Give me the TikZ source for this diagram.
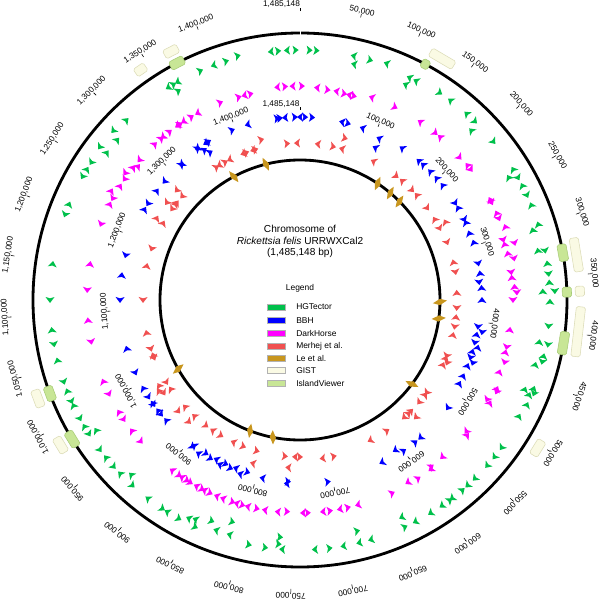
\documentclass[tikz,border=0pt]{standalone}
\usepackage{fontspec}
\setmainfont{Liberation Sans}
\definecolor{hgt}{HTML}{00C04B}
\definecolor{bbh}{HTML}{0000FF}
\definecolor{dh}{HTML}{FF00FF}
\definecolor{mer}{HTML}{F05050}
\definecolor{lecol}{HTML}{C8961E}
\definecolor{gistf}{HTML}{FAFAE4}
\definecolor{gistd}{HTML}{DCDCB8}
\definecolor{ivf}{HTML}{C8E696}
\definecolor{ivd}{HTML}{A8CC78}
\newcommand\featarrow[4]{%
  \pgfmathsetmacro\ftA{90-(#2)}%
  \pgfmathsetmacro\ftD{(#4)*3/(#3)*57.2958}%
  \pgfmathsetmacro\ftRo{#3+4.5}%
  \pgfmathsetmacro\ftRi{#3-4.5}%
  \fill[#1] ({\ftA-\ftD}:#3) -- ({\ftA+\ftD}:\ftRo) -- ({\ftA+0.55*\ftD}:#3) -- ({\ftA+\ftD}:\ftRi) -- cycle;}
\tikzset{
  ring/.style={line width=2pt, black},
  lab/.style={font=\fontsize{5.9}{7}\selectfont, inner sep=0pt},
  titletext/.style={font=\fontsize{7.2}{8.5}\selectfont, inner sep=0pt},
  legtext/.style={font=\fontsize{6}{7}\selectfont, inner sep=0pt},
  legbox/.style={draw=gray!60, line width=0.3pt, minimum width=0.45cm, minimum height=0.16cm, inner sep=0pt},
  gistbox/.style={draw=gistd, fill=gistf, line width=0.4pt, rounded corners=1.2pt, minimum height=0.23cm, inner sep=0pt},
  ivbox/.style={draw=ivd, fill=ivf, line width=0.4pt, rounded corners=1.2pt, minimum height=0.23cm, inner sep=0pt},
}
\begin{document}
\begin{tikzpicture}[x=0.025cm,y=0.025cm]
\useasboundingbox (-300,-300) rectangle (300,300);
% GIST boxes
\foreach \a/\w [count=\n] in {30.5/27, 325.3/12, 332.6/15, 80.7/34, 88.2/10, 96.5/50, 121.9/17, 249.4/18, 238.8/17}{
  \pgfmathsetmacro\bxw{\w*0.025}
  \node[gistbox, minimum width=\bxw cm, rotate=-\a] (gist\n) at ({90-\a}:280) {};
}
% circles
\draw[ring] (0,0) circle[radius=267];
\draw[ring] (0,0) circle[radius=140];
\draw[white, line width=0.6pt] (90:264) -- (90:270);
% IslandViewer boxes
\foreach \a/\w [count=\n] in {28/8, 332.6/15, 79.8/17, 88.3/10, 99.3/23, 249.5/15, 238.6/17}{
  \pgfmathsetmacro\bxw{\w*0.025}
  \node[ivbox, minimum width=\bxw cm, rotate=-\a] (iv\n) at ({90-\a}:267) {};
}
% HGTector
\foreach \a/\r/\d in {345.7/252/1, 353.3/250/-1, 355/250/1, 357/250/-1, 359/250/1, 2.2/250/1, 3.8/250/1, 12.4/250/-1, 12.9/242/-1, 16.3/250/1, 20.1/252/-1, 26.2/248/-1, 27.9/248/-1, 26.1/240/-1, 34/250/1, 37/250/-1, 41.8/250/-1, 44.4/250/1, 45.3/241/-1, 50.7/250/1, 58.5/250/-1, 60.7/250/1, 59.6/242/-1, 62.8/250/-1, 65.2/250/1, 67.7/250/-1, 72.4/250/-1, 73.3/243/-1, 78.6/250/1, 78.3/243/-1, 81.6/250/-1, 84/250/1, 86/250/-1, 88/243/-1, 88/255/1, 90.4/250/-1, 96/250/1, 100/243/-1, 100.2/252/1, 103/250/-1, 104.3/250/1, 105.4/244/-1, 110.8/250/-1, 111.7/242/-1, 111.8/252/1, 112.5/248/-1, 114.8/250/-1, 118/248/-1, 126.2/250/1, 128.9/250/1, 131.5/250/1, 135.6/250/1, 137.9/250/1, 139.5/250/-1, 142.5/250/1, 143.2/250/-1, 145.4/250/1, 148.5/250/1, 152.5/250/1, 155.2/250/-1, 154.9/240/1, 163.5/250/1, 166.1/238/-1, 166.3/250/1, 170/250/1, 173.2/250/-1, 176.6/250/1, 184.8/238/-1, 184.1/250/1, 185/245/-1, 188/250/-1, 191.8/250/-1, 196.7/245/1, 197/232/-1, 200/245/1, 201.8/238/-1, 204.8/250/-1, 205.5/243/1, 207/245/1, 209/250/-1, 212.1/250/1, 213.4/250/-1, 217.5/250/1, 222.1/250/-1, 224/243/1, 226/250/1, 228.2/250/-1, 230.9/250/1, 233.2/250/-1, 237.4/242/1, 237.6/250/-1, 239.6/250/1, 241.7/250/-1, 245/250/1, 246.1/250/-1, 248.6/250/1, 250.9/250/-1, 256/250/1, 259.8/250/-1, 263.1/250/1, 270/250/-1, 278.3/250/1, 290/250/-1, 292.5/250/1, 299.6/250/-1, 301.5/250/1, 303.4/250/-1, 307.3/243/1, 307.4/252/-1, 311.2/243/1, 312.2/252/-1, 316/250/1, 328.2/250/-1, 329.6/250/1, 330.7/250/-1, 329.8/242/1, 336.5/250/1, 339.8/250/-1, 342.8/250/1}{
  \featarrow{hgt}{\a}{\r}{\d}
}
% DarkHorse
\foreach \a/\r/\d in {343.2/212/1, 344.8/212/-1, 346.5/212/1, 353.9/214/-1, 356/214/1, 358/214/-1, 0.5/214/1, 4.6/213/-1, 7.5/212/1, 9.9/212/-1, 12.1/211/1, 13.5/211/-1, 14.8/211/1, 19.5/215/-1, 26.2/215/1, 34/215/-1, 39/215/1, 40.7/215/-1, 48.2/214/1, 51.2/215/-1, 52.6/215/1, 62.2/215/-1, 63/215/1, 66.2/215/-1, 67.7/215/1, 70.4/218/-1, 73.5/212/1, 74.8/212/-1, 75.1/222/1, 77.4/213/-1, 79/218/1, 82.5/213/1, 84/213/-1, 86.5/215/-1, 88/217/1, 90/213/1, 98.1/212/-1, 102.8/212/1, 104.3/212/-1, 106.9/214/1, 109.9/212/-1, 115/217/1, 114.3/216/-1, 118/212/1, 118.5/216/-1, 128.3/212/1, 129/215/-1, 137.8/212/1, 141.7/212/-1, 142.3/214/1, 146.5/214/-1, 149.4/212/1, 154.5/214/-1, 164.2/213/1, 167/213/-1, 169.2/213/1, 171.9/213/-1, 173.8/213/1, 177.9/213/-1, 179.2/213/1, 183.5/212/-1, 186/213/1, 189.5/213/1, 191.7/213/-1, 194.2/213/1, 195.7/213/-1, 197.3/213/1, 198.5/213/-1, 201.2/213/1, 203/213/1, 205/213/-1, 206.7/213/1, 207.4/213/-1, 209.1/213/1, 211/213/-1, 212.1/213/-1, 213.7/213/1, 214.6/213/-1, 216.9/213/1, 228.4/213/-1, 232.1/213/1, 235.9/213/-1, 238.2/213/1, 243.8/213/-1, 247.5/213/1, 258.7/213/-1, 264.5/213/1, 272.7/213/-1, 279.7/213/1, 290.9/213/-1, 296.7/213/1, 298.5/213/-1, 300/218/1, 302.3/213/1, 304.6/213/-1, 306/216/-1, 308.4/213/1, 309.5/210/1, 311.1/213/-1, 317/213/1, 319.3/213/1, 320/213/-1, 322.2/213/1, 324.9/213/-1, 325.7/213/1, 326.9/213/-1, 329.3/213/1, 331.3/213/-1, 338/213/1}{
  \featarrow{dh}{\a}{\r}{\d}
}
% BBH
\foreach \a/\r/\d in {352.8/183/1, 355.3/183/-1, 358.4/183/1, 0/183/-1, 1.6/183/1, 3.8/183/1, 13.3/183/-1, 15.2/183/1, 20/183/-1, 26.1/180/-1, 26.3/170/-1, 33.9/183/-1, 40.5/183/-1, 42.3/183/-1, 45.4/183/-1, 48.3/183/-1, 51.2/183/-1, 58/183/1, 59.8/183/-1, 63.9/183/1, 65/183/-1, 68.5/182/-1, 71.7/183/-1, 78.4/182/1, 81.6/182/-1, 84.3/180/1, 86.2/182/-1, 90/182/-1, 98.5/180/1, 100/185/1, 101.1/180/-1, 103.7/180/1, 105/184/-1, 106.7/180/-1, 108.6/180/1, 110/184/1, 111.5/180/-1, 115/180/-1, 117.7/180/-1, 126.1/183/1, 138.8/183/1, 141/183/-1, 145.5/183/-1, 147.6/178/1, 153.2/182/1, 171.3/184/-1, 184.1/184/1, 183.8/182/-1, 191.9/182/1, 197/180/-1, 199/184/1, 200.9/180/1, 202.5/182/-1, 204.4/180/-1, 206/183/1, 207.7/180/1, 209.5/182/-1, 211.5/180/-1, 213.5/184/1, 216/180/1, 216.3/182/-1, 228/180/1, 230.6/180/-1, 232/180/1, 234.5/180/-1, 235/180/1, 237.4/180/-1, 240.6/180/1, 246.2/180/-1, 254.3/180/1, 270/180/-1, 277.9/180/1, 284.4/180/-1, 300.2/180/1, 302.4/180/-1, 307.3/180/1, 311.2/180/-1, 318.8/180/1, 319/180/-1, 325.9/183/1, 326/183/-1, 327.5/178/1, 328.7/173/1, 329/183/-1, 330/183/1, 338.2/183/1, 343.4/183/-1, 353.7/183/1}{
  \featarrow{bbh}{\a}{\r}{\d}
}
% Merhej et al.
\foreach \a/\r/\d in {355.3/157/1, 358.9/157/-1, 346.4/165/1, 342.6/157/-1, 343.5/157/1, 338.8/157/-1, 340/157/1, 333.4/157/-1, 331.5/157/1, 329.1/157/-1, 327.8/157/1, 311.4/157/-1, 307.6/157/1, 306.2/165/-1, 299.3/157/1, 6.5/157/-1, 12.2/157/1, 15.5/157/-1, 15.5/168/1, 27.9/157/-1, 37.8/157/1, 40.6/157/-1, 45.5/157/1, 48.1/157/-1, 54.1/157/1, 59.1/157/-1, 62.8/157/1, 61.8/165/-1, 68.6/158/1, 76.2/158/-1, 79.8/158/1, 87.4/157/-1, 92.9/157/1, 96.3/157/-1, 99.8/157/1, 102.9/157/-1, 110.8/157/1, 111.8/157/-1, 113.1/160/1, 114.4/157/-1, 126.1/157/1, 127.2/157/-1, 130.6/157/1, 135/157/-1, 135.3/165/1, 136.3/157/-1, 138.4/157/1, 146.4/157/-1, 153.4/157/1, 167.8/160/-1, 171.9/160/1, 180/157/-1, 181.8/157/1, 185.5/157/-1, 184/168/1, 196/157/-1, 196.1/170/1, 201.2/157/-1, 205.1/157/1, 210.3/157/-1, 213.8/157/1, 216.8/157/-1, 222.3/157/1, 222.4/165/-1, 227.1/157/1, 227.6/165/-1, 235.4/157/1, 235.7/165/-1, 237.2/168/1, 238.4/157/-1, 238.7/165/1, 248.4/157/-1, 249.4/157/1, 251.9/157/-1, 257.9/157/1, 270/157/-1, 282.5/157/1, 289.1/157/-1, 299.7/165/1, 305.5/157/-1, 308.3/157/1, 311.7/165/-1}{
  \featarrow{mer}{\a}{\r}{\d}
}
% Le et al.
\foreach \a in {331.8, 345.9, 33.7, 40.2, 45.3, 90.8, 97.6, 126.9, 191.2, 200.9, 240.5}{
  \fill[lecol] ({90-\a+0.6}:147) -- ({90-\a-1.3}:140) -- ({90-\a-0.6}:133) -- ({90-\a+1.3}:140) -- cycle;
}
% outer scale labels
\draw[line width=0.4pt] (90:289) -- (90:292.5);
\node[lab] (out0) at (-18.5,295.5) {1,485,148};
\foreach \k/\t in {50/{50,000}, 100/{100,000}, 150/{150,000}, 200/{200,000}, 250/{250,000}, 300/{300,000}, 350/{350,000}, 400/{400,000}, 450/{450,000}, 500/{500,000}, 550/{550,000}, 600/{600,000}, 650/{650,000}, 700/{700,000}, 750/{750,000}, 800/{800,000}, 850/{850,000}, 900/{900,000}, 950/{950,000}, 1000/{1,000,000}, 1050/{1,050,000}, 1100/{1,100,000}, 1150/{1,150,000}, 1200/{1,200,000}, 1250/{1,250,000}, 1300/{1,300,000}, 1350/{1,350,000}, 1400/{1,400,000}}{
  \pgfmathsetmacro\ang{\k/1485.148*360}
  \draw[line width=0.4pt] ({90-\ang}:289) -- ({90-\ang}:292.5);
  \node[lab, rotate=-\ang] (out\k) at ({90-\ang}:295.5) {\t};
}
% inner scale labels
\draw[line width=0.4pt] (90:190) -- (90:193);
\node[lab] (in0) at (-19,196) {1,485,148};
\foreach \k/\t in {100/{100,000}, 200/{200,000}, 300/{300,000}, 400/{400,000}, 500/{500,000}, 600/{600,000}, 700/{700,000}, 800/{800,000}, 900/{900,000}, 1000/{1,000,000}, 1100/{1,100,000}, 1200/{1,200,000}, 1300/{1,300,000}, 1400/{1,400,000}}{
  \pgfmathsetmacro\ang{\k/1485.148*360}
  \draw[line width=0.4pt] ({90-\ang}:190) -- ({90-\ang}:193);
  \node[lab, rotate=-\ang] (in\k) at ({90-\ang}:196) {\t};
}
% title
\node[titletext] (t1) at (0,71) {Chromosome of};
\node[titletext] (t2) at (0,59) {\textit{Rickettsia felis} URRWXCal2};
\node[titletext] (t3) at (0,47) {(1,485,148 bp)};
% legend
\node[legtext] (legt) at (0,12) {Legend};
\foreach \y/\f/\t [count=\n] in {-7/hgt/HGTector, -20.5/bbh/BBH, -33/dh/DarkHorse, -46/mer/Merhej et al., -58.5/lecol/Le et al., -70.5/gistf/GIST, -83/ivf/IslandViewer}{
  \node[legbox, fill=\f] (lb\n) at (-24,\y) {};
  \node[legtext, anchor=west] (lt\n) at (-4,\y) {\t};
}
\end{tikzpicture}
\end{document}
